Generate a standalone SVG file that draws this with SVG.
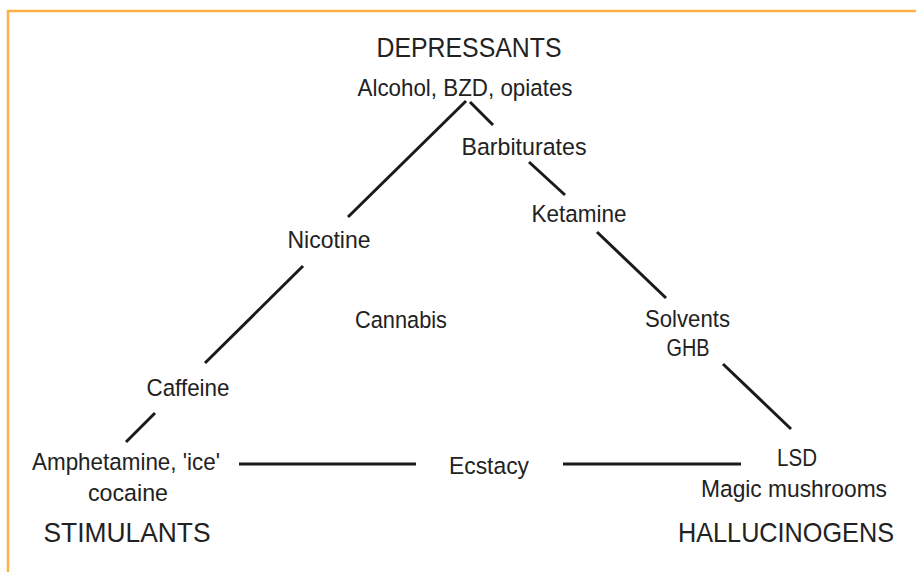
<svg xmlns="http://www.w3.org/2000/svg" width="916" height="572" viewBox="0 0 916 572">
<style>
  text { font-family: "Liberation Sans", Arial, sans-serif; fill: #222; text-anchor: middle; }
  .lbl { font-size: 24.5px; }
  .cat { font-size: 27.5px; }
  .edge { stroke: #1a1a1a; stroke-width: 3; fill: none; }
  .frame { stroke: #FDB043; stroke-width: 2.5; fill: none; }
</style>
<rect width="916" height="572" fill="#fff"/>
<path class="frame" d="M8,572 V11 H916"/>
<g id="connectors">
  <line class="edge" x1="466" y1="101" x2="348" y2="217"/>
  <line class="edge" x1="470" y1="102" x2="493" y2="125"/>
  <line class="edge" x1="529" y1="162" x2="565" y2="195"/>
  <line class="edge" x1="303" y1="266" x2="205" y2="363"/>
  <line class="edge" x1="155" y1="413" x2="126" y2="442"/>
  <line class="edge" x1="597" y1="232" x2="666" y2="298"/>
  <line class="edge" x1="723" y1="364" x2="791" y2="429"/>
  <line class="edge" x1="239" y1="464" x2="416" y2="464"/>
  <line class="edge" x1="563" y1="464" x2="741" y2="464"/>
</g>
<g id="depressants"><text class="cat" x="469" y="57" textLength="185" lengthAdjust="spacingAndGlyphs">DEPRESSANTS</text></g>
<g id="alcohol"><text class="lbl" x="465" y="96" textLength="215" lengthAdjust="spacingAndGlyphs">Alcohol, BZD, opiates</text></g>
<g id="barbiturates"><text class="lbl" x="524" y="155" textLength="125" lengthAdjust="spacingAndGlyphs">Barbiturates</text></g>
<g id="ketamine"><text class="lbl" x="579" y="222" textLength="95" lengthAdjust="spacingAndGlyphs">Ketamine</text></g>
<g id="nicotine"><text class="lbl" x="329" y="248" textLength="83" lengthAdjust="spacingAndGlyphs">Nicotine</text></g>
<g id="cannabis"><text class="lbl" x="401" y="328" textLength="92" lengthAdjust="spacingAndGlyphs">Cannabis</text></g>
<g id="solvents"><text class="lbl" x="687.5" y="327" textLength="85" lengthAdjust="spacingAndGlyphs">Solvents</text><text class="lbl" x="688" y="356" textLength="43" lengthAdjust="spacingAndGlyphs">GHB</text></g>
<g id="caffeine"><text class="lbl" x="188" y="396" textLength="83" lengthAdjust="spacingAndGlyphs">Caffeine</text></g>
<g id="amphetamine"><text class="lbl" x="126" y="470" textLength="188" lengthAdjust="spacingAndGlyphs">Amphetamine, 'ice'</text><text class="lbl" x="128" y="501" textLength="80" lengthAdjust="spacingAndGlyphs">cocaine</text></g>
<g id="stimulants"><text class="cat" x="127" y="542" textLength="167" lengthAdjust="spacingAndGlyphs">STIMULANTS</text></g>
<g id="ecstacy"><text class="lbl" x="489" y="474" textLength="80" lengthAdjust="spacingAndGlyphs">Ecstacy</text></g>
<g id="lsd"><text class="lbl" x="797" y="466" textLength="40" lengthAdjust="spacingAndGlyphs">LSD</text><text class="lbl" x="794" y="497" textLength="186" lengthAdjust="spacingAndGlyphs">Magic mushrooms</text></g>
<g id="hallucinogens"><text class="cat" x="786" y="542" textLength="216" lengthAdjust="spacingAndGlyphs">HALLUCINOGENS</text></g>
</svg>
